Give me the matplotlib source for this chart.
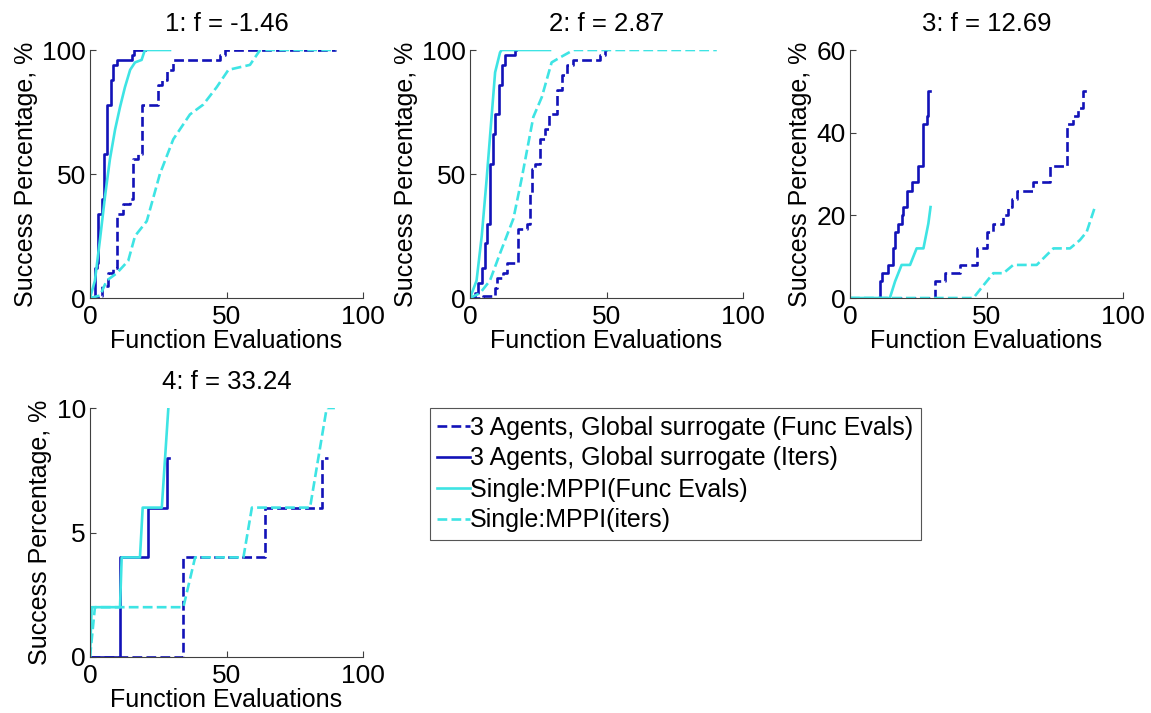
import matplotlib
matplotlib.use("Agg")
import matplotlib.pyplot as plt

# ---- data (x = function evaluations, y = success %) ----
titles = ["1: f = -1.46", "2: f = 2.87", "3: f = 12.69", "4: f = 33.24"]
y_limits = [100, 100, 60, 10]
y_ticks = [[0, 50, 100], [0, 50, 100], [0, 20, 40, 60], [0, 5, 10]]
x_ticks = [0, 50, 100]

legend_labels = [
    "3 Agents, Global surrogate (Func Evals)",
    "3 Agents, Global surrogate (Iters)",
    "Single:MPPI(Func Evals)",
    "Single:MPPI(iters)",
]

# subplot 1
p1_agents_fe_x = [0, 3, 4.3, 6.7, 8.5, 9.8, 12.2, 14.7, 15.9, 17.7, 19, 25, 26.3, 28.1, 30.5, 47.6, 49.5, 90]
p1_agents_fe_y = [0, 1, 5, 10, 12, 34, 38, 40, 56, 58, 78, 86, 88, 92, 96, 98, 100, 100]
p1_agents_it_x = [0, 1.8, 2.4, 3.0, 4.3, 5.1, 6.1, 7.7, 8.5, 9.8, 15.3, 16.1, 20]
p1_agents_it_y = [0, 12, 14, 34, 40, 58, 78, 88, 94, 96, 98, 100, 100]
p1_single_fe_x = [0, 1.8, 3.7, 5.5, 7.3, 9.2, 11, 12.8, 14.7, 16.5, 18.9, 20.1, 29.3]
p1_single_fe_y = [0, 7, 24, 41, 56, 68, 77, 85, 92, 95, 96, 100, 100]
p1_single_it_x = [0, 3.7, 6.1, 9.8, 14, 16.5, 20.8, 25.6, 30.5, 36.6, 41.5, 46.4, 50.7, 58.6, 62.3, 90]
p1_single_it_y = [0, 1, 7, 10, 15, 25, 31, 50, 64, 74, 78, 85, 92, 94, 100, 100]

# subplot 2
p2_agents_fe_x = [0, 4.9, 9.2, 9.8, 12.2, 13.4, 17.7, 20.8, 22, 22.6, 23.8, 25.6, 27.5, 29, 31.7, 33.6, 35.4, 37.9, 47.6, 49.5, 50]
p2_agents_fe_y = [0, 1, 4, 8, 10, 14, 28, 30, 42, 52, 54, 64, 68, 74, 84, 90, 94, 96, 98, 100, 100]
p2_agents_it_x = [0, 1.8, 3.1, 4.3, 5.5, 6.1, 7.3, 8.5, 9.2, 10.7, 11.6, 12.8, 16.5, 17]
p2_agents_it_y = [0, 2, 6, 12, 22, 30, 54, 66, 74, 86, 94, 98, 100, 100]
p2_single_fe_x = [0, 2.4, 4.3, 6.1, 7.9, 9.2, 11, 11.6, 29.3]
p2_single_fe_y = [0, 7, 25, 48, 73, 91, 99, 100, 100]
p2_single_it_x = [0, 3.7, 7.3, 11, 15.9, 18.9, 23.2, 26.3, 29.9, 33, 37.9, 90.4]
p2_single_it_y = [0, 2, 7, 18, 32, 48, 73, 81, 95, 97, 100, 100]

# subplot 3
p3_agents_fe_x = [0, 31.1, 34.8, 40.3, 46.4, 50.1, 52.5, 56.2, 58, 59.2, 61.1, 67.2, 73.3, 79.4, 81.8, 83.6, 85.5, 87.3]
p3_agents_fe_y = [0, 4, 6, 8, 12, 16, 18, 20, 22, 24, 26, 28, 32, 42, 44, 46, 50, 50]
p3_agents_it_x = [0, 11, 11.6, 14, 15.9, 16.5, 17.7, 18.9, 19.5, 20.8, 22.6, 25, 26.9, 28.1, 28.7, 29.3]
p3_agents_it_y = [0, 4, 6, 8, 12, 16, 18, 20, 22, 26, 28, 32, 42, 44, 50, 50]
p3_single_fe_x = [0, 14.6, 16.5, 17.7, 18.9, 22, 24.4, 26.9, 28.7, 29.5]
p3_single_fe_y = [0, 0, 4, 6, 8, 8, 12, 12, 18, 22]
p3_single_it_x = [0, 45.2, 48.8, 52.5, 56.2, 59.8, 68.4, 74.5, 80.6, 84.2, 86.7, 89.7]
p3_single_it_y = [0, 0, 3, 6, 6, 8, 8, 12, 12, 14, 16, 22]

# subplot 4
p4_agents_fe_x = [0, 34, 64, 85, 87]
p4_agents_fe_y = [0, 4, 6, 8, 8]
p4_agents_it_x = [0, 11, 21.4, 28.3, 29]
p4_agents_it_y = [0, 4, 6, 8, 8]
p4_single_fe_x = [0, 0.6, 11, 11.6, 18.3, 19.3, 26.3, 28.7]
p4_single_fe_y = [0, 2, 2, 4, 4, 6, 6, 10]
p4_single_it_x = [0, 1.8, 34.2, 38.5, 56.2, 59.3, 80.6, 86.7, 89.7]
p4_single_it_y = [0, 2, 2, 4, 4, 6, 6, 10, 10]

panels = [
    (p1_agents_fe_x, p1_agents_fe_y, p1_agents_it_x, p1_agents_it_y,
     p1_single_fe_x, p1_single_fe_y, p1_single_it_x, p1_single_it_y),
    (p2_agents_fe_x, p2_agents_fe_y, p2_agents_it_x, p2_agents_it_y,
     p2_single_fe_x, p2_single_fe_y, p2_single_it_x, p2_single_it_y),
    (p3_agents_fe_x, p3_agents_fe_y, p3_agents_it_x, p3_agents_it_y,
     p3_single_fe_x, p3_single_fe_y, p3_single_it_x, p3_single_it_y),
    (p4_agents_fe_x, p4_agents_fe_y, p4_agents_it_x, p4_agents_it_y,
     p4_single_fe_x, p4_single_fe_y, p4_single_it_x, p4_single_it_y),
]


def main():
    plt.rcParams["font.family"] = ["Liberation Sans", "DejaVu Sans"]
    dark = "#1212b8"
    cyan = "#3ee4e4"
    lw = 1.9

    W, H = 1151, 713
    fig = plt.figure(figsize=(W / 100, H / 100), dpi=100)
    # axes boxes in pixels: left, top, right, bottom
    boxes = [(90, 50, 363, 298), (470, 50, 743, 298), (850, 50, 1123, 298), (90, 408, 363, 657)]

    handles = None
    for i, (box, data) in enumerate(zip(boxes, panels)):
        l, t, r, b = box
        ax = fig.add_axes([l / W, 1 - b / H, (r - l) / W, (b - t) / H])
        afx, afy, aix, aiy, sfx, sfy, six, siy = data
        h1, = ax.plot(afx, afy, color=dark, ls="--", lw=lw, drawstyle="steps-post")
        h2, = ax.plot(aix, aiy, color=dark, ls="-", lw=lw, drawstyle="steps-post")
        h3, = ax.plot(sfx, sfy, color=cyan, ls="-", lw=lw)
        h4, = ax.plot(six, siy, color=cyan, ls="--", lw=lw)
        if handles is None:
            handles = [h1, h2, h3, h4]

        ax.set_xlim(0, 100)
        ax.set_ylim(0, y_limits[i])
        ax.set_xticks(x_ticks)
        ax.set_yticks(y_ticks[i])
        ax.spines["top"].set_visible(False)
        ax.spines["right"].set_visible(False)
        for s in ("left", "bottom"):
            ax.spines[s].set_color("#404040")
            ax.spines[s].set_linewidth(0.8)
        ax.tick_params(direction="in", length=4, width=0.8, labelsize=19, pad=3, colors="#404040",
                       labelcolor="black")
        ax.tick_params(axis="x", pad=5)
        ax.set_title(titles[i], fontsize=18.5, pad=14)
        ax.set_xlabel("Function Evaluations", fontsize=18, labelpad=0)
        ax.set_ylabel("Success Percentage, %", fontsize=18, labelpad=3)

    leg = fig.legend(handles, legend_labels, loc="upper left",
                     bbox_to_anchor=(430 / W, 1 - 408 / H), fontsize=18,
                     handlelength=1.3, handletextpad=0.0, borderpad=0.3,
                     labelspacing=0.28, fancybox=False, framealpha=1,
                     borderaxespad=0)
    leg.get_frame().set_edgecolor("#555555")
    leg.get_frame().set_linewidth(0.8)

    fig.savefig("out.png", dpi=100)
    plt.close(fig)


if __name__ == "__main__":
    main()
